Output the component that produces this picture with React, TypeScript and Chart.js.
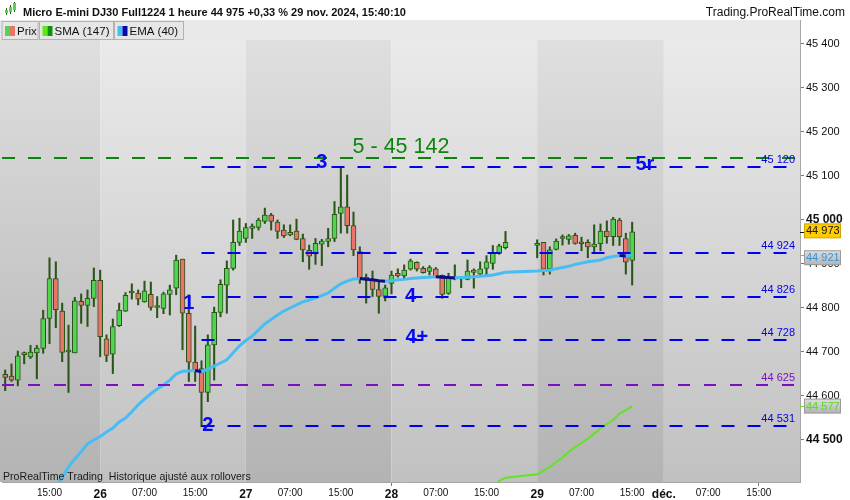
import { useEffect, useRef } from "react";
import { Chart, registerables, type Plugin } from "chart.js";

Chart.register(...registerables);

const FONT = '"Liberation Sans", Arial, sans-serif';

// un créneau = une bougie d'une heure (jour + heure)
const categories = [
  "25 08:00", "25 09:00", "25 10:00", "25 11:00", "25 12:00", "25 13:00", "25 14:00", "25 15:00",
  "25 16:00", "25 17:00", "25 18:00", "25 19:00", "25 20:00", "25 21:00", "25 22:00",
  "26 00:00", "26 01:00", "26 02:00", "26 03:00", "26 04:00", "26 05:00", "26 06:00", "26 07:00",
  "26 08:00", "26 09:00", "26 10:00", "26 11:00", "26 12:00", "26 13:00", "26 14:00", "26 15:00",
  "26 16:00", "26 17:00", "26 18:00", "26 19:00", "26 20:00", "26 21:00", "26 22:00",
  "27 00:00", "27 01:00", "27 02:00", "27 03:00", "27 04:00", "27 05:00", "27 06:00", "27 07:00",
  "27 08:00", "27 09:00", "27 10:00", "27 11:00", "27 12:00", "27 13:00", "27 14:00", "27 15:00",
  "27 16:00", "27 17:00", "27 18:00", "27 19:00", "27 20:00", "27 21:00", "27 22:00",
  "28 00:00", "28 01:00", "28 02:00", "28 03:00", "28 04:00", "28 05:00", "28 06:00", "28 07:00",
  "28 08:00", "28 09:00", "28 10:00", "28 11:00", "28 12:00", "28 13:00", "28 14:00", "28 15:00",
  "28 16:00", "28 17:00", "28 18:00", "28 19:00", "28 20:00", "28 21:00", "28 22:00",
  "29 00:00", "29 01:00", "29 02:00", "29 03:00", "29 04:00", "29 05:00", "29 06:00", "29 07:00",
  "29 08:00", "29 09:00", "29 10:00", "29 11:00", "29 12:00", "29 13:00", "29 14:00", "29 15:00",
  "29 16:00", "29 17:00", "29 18:00", "29 19:00",
  "02 00:00", "02 01:00", "02 02:00", "02 03:00", "02 04:00", "02 05:00", "02 06:00", "02 07:00",
  "02 08:00", "02 09:00", "02 10:00", "02 11:00", "02 12:00", "02 13:00", "02 14:00", "02 15:00",
  "02 16:00", "02 17:00", "02 18:00", "02 19:00", "02 20:00", "02 21:00",
];

// étiquettes de l'axe du temps
const hourTicks = ["07:00", "15:00"];
const dayKeys = ["26", "27", "28", "29", "02"];
const dayNames = ["26", "27", "28", "29", "déc."];

// bougies (null = marché fermé, Thanksgiving)
const opens = [
  44649, 44645, 44636, 44694, 44689, 44698, 44708, 44776, 44867, 44793,
  44700, 44698, 44815, 44806, 44822, 44863, 44730, 44695, 44760, 44793,
  44834, 44834, 44814, 44831, 44801, 44799, 44831, 44845, 44911, 44788,
  44677, 44662, 44608, 44716, 44790, 44852, 44890, 44949, 44958, 44981,
  44983, 44997, 45011, 44995, 44977, 44966, 44975, 44958, 44931, 44923,
  44945, 44951, 44958, 45015, 45030, 44987, 44928, 44869, 44864, 44842,
  44827, 44856, 44879, 44873, 44888, 44904, 44890, 44883, 44889, 44874,
  44833, 44866, 44868, 44865, 44886, 44877, 44890, 44901, 44924, 44937,
  null, null, null, null, 44942, 44949, 44888, 44933, 44958, 44956,
  44965, 44947, 44949, 44939, 44946, 44975, 44962, 45000, 44958, 44908,
];
const highs = [
  44659, 44673, 44702, 44700, 44715, 44715, 44795, 44914, 44905, 44811,
  44761, 44824, 44832, 44841, 44891, 44886, 44739, 44775, 44811, 44835,
  44855, 44841, 44861, 44859, 44826, 44836, 44852, 44920, 44911, 44830,
  44759, 44680, 44739, 44802, 44864, 44907, 45000, 45004, 44992, 44991,
  45004, 45027, 45015, 45000, 44989, 44989, 45002, 44968, 44943, 44958,
  44956, 44981, 45042, 45118, 45102, 45018, 44939, 44877, 44884, 44860,
  44852, 44884, 44889, 44898, 44911, 44905, 44894, 44896, 44892, 44875,
  44879, 44898, 44870, 44909, 44889, 44905, 44919, 44942, 44945, 44974,
  null, null, null, null, 44955, 44949, 44939, 44957, 44966, 44967,
  44970, 44961, 44955, 44989, 44991, 44998, 45006, 45004, 44970, 44995,
];
const lows = [
  44612, 44633, 44623, 44673, 44685, 44639, 44697, 44719, 44755, 44678,
  44608, 44698, 44765, 44758, 44803, 44689, 44678, 44651, 44758, 44792,
  44820, 44807, 44813, 44795, 44778, 44787, 44784, 44830, 44705, 44633,
  44633, 44530, 44587, 44636, 44780, 44788, 44886, 44942, 44949, 44958,
  44977, 44992, 44977, 44958, 44960, 44964, 44955, 44905, 44888, 44899,
  44896, 44939, 44951, 44970, 44970, 44919, 44856, 44811, 44826, 44788,
  44816, 44832, 44870, 44866, 44886, 44884, 44879, 44875, 44870, 44822,
  44831, 44864, 44846, 44864, 44845, 44875, 44875, 44888, 44922, 44934,
  null, null, null, null, 44914, 44875, 44877, 44932, 44943, 44945,
  44945, 44930, 44914, 44928, 44930, 44947, 44942, 44942, 44877, 44852,
];
const closes = [
  44642, 44636, 44691, 44695, 44700, 44709, 44776, 44867, 44796, 44699,
  44701, 44816, 44806, 44822, 44863, 44735, 44692, 44758, 44795, 44829,
  44835, 44820, 44839, 44801, 44802, 44832, 44841, 44909, 44788, 44677,
  44659, 44608, 44716, 44790, 44854, 44890, 44949, 44975, 44983, 44986,
  45000, 45011, 44997, 44974, 44964, 44972, 44956, 44932, 44918, 44947,
  44952, 44958, 45013, 45030, 44987, 44932, 44869, 44865, 44842, 44826,
  44846, 44875, 44873, 44886, 44907, 44888, 44880, 44892, 44871, 44831,
  44868, 44869, 44866, 44884, 44881, 44889, 44905, 44924, 44941, 44949,
  null, null, null, null, 44947, 44888, 44932, 44952, 44959, 44964,
  44947, 44946, 44939, 44945, 44975, 44962, 45002, 44962, 44904, 44973,
];

// moyennes mobiles
const ema40 = [
  null, null, null, null, null, null, 44360, 44377, 44395, 44414,
  44439, 44457, 44473, 44491, 44500, 44508, 44518, 44527, 44541, 44550,
  44564, 44580, 44593, 44605, 44616, 44625, 44636, 44650, 44656, 44657,
  44658, 44655, 44661, 44668, 44675, 44682, 44698, 44714, 44726, 44736,
  44750, 44764, 44774, 44784, 44793, 44800, 44807, 44814, 44818, 44823,
  44828, 44834, 44845, 44855, 44861, 44866, 44867, 44865, 44864, 44862,
  44861, 44862, 44864, 44865, 44867, 44868, 44869, 44870, 44871, 44870,
  44869, 44868, 44869, 44870, 44871, 44872, 44873, 44875, 44878, 44881,
  null, null, null, null, 44884, 44885, 44886, 44889, 44892, 44895,
  44899, 44902, 44905, 44907, 44909, 44914, 44917, 44919, 44918, 44921,
];
const sma147 = [
  ...Array(76).fill(null),
  44374, 44390, 44407, 44414,
  null, null, null, null, 44422, 44431, 44438, 44450, 44460, 44473,
  44484, 44493, 44503, 44514, 44526, 44536, 44545, 44560, 44568, 44577,
];

// niveaux tracés (valeur + bougie d'ancrage)
const levelValues = [45142, 45120, 44924, 44826, 44728, 44625, 44531];
const levelAnchors = [0, 31, 31, 31, 31, 0, 31];

// comptage des vagues
const waveTexts = ["1", "2", "3", "4", "4+", "5r"];
const waveSlots = [29, 32, 50, 64, 65, 101];
const wavePrices = [44811, 44534, 45130, 44827, 44734, 45126];

const yTicks = [44500, 44600, 44700, 44800, 44900, 45000, 45100, 45200, 45300, 45400];

const UP = "#52d452";
const DOWN = "#e8746a";
const EDGE = "#2b5418";
const EMA_COL = "#46bdf5";
const EMA_DOWN = "#0a0a8a";
const SMA_COL = "#62e422";

const fmt = (v: number) => {
  const s = Math.round(v).toString();
  return s.slice(0, -3) + " " + s.slice(-3);
};

const tickLabel = (cat: string | undefined) => {
  if (!cat) return null;
  const [d, h] = cat.split(" ");
  if (h === "00:00") {
    const k = dayKeys.indexOf(d);
    return k >= 0 ? dayNames[k] : null;
  }
  return hourTicks.includes(h) ? h : null;
};

const decor: Plugin<"bar"> = {
  id: "decor",
  beforeDraw(chart) {
    const { ctx, chartArea: a, scales } = chart;
    const xs = scales.x;
    ctx.save();
    ctx.fillStyle = "#ffffff";
    ctx.fillRect(0, 0, chart.width, chart.height);

    // bandes par journée
    const bounds = [0];
    categories.forEach((c, i) => {
      if (c.endsWith("00:00")) bounds.push(xs.getPixelForValue(i));
    });
    bounds.push(a.right);
    const light = ctx.createLinearGradient(0, a.top + 20, 0, a.bottom);
    light.addColorStop(0, "#eaeaea");
    light.addColorStop(1, "#c1c1c1");
    const dark = ctx.createLinearGradient(0, a.top + 20, 0, a.bottom);
    dark.addColorStop(0, "#dfdfdf");
    dark.addColorStop(1, "#b3b3b3");
    for (let k = 0; k < bounds.length - 1; k++) {
      ctx.fillStyle = k % 2 === 0 ? dark : light;
      ctx.fillRect(bounds[k], a.top, bounds[k + 1] - bounds[k], a.bottom - a.top);
    }
    // bandeau des légendes
    ctx.fillStyle = "#e9e9e9";
    ctx.fillRect(0, a.top, a.right, 20);
    ctx.restore();
  },
  afterDatasetsDraw(chart) {
    const { ctx, chartArea: a, scales } = chart;
    const xs = scales.x;
    const ys = scales.y;
    ctx.save();
    const colors = ["#0e840e", "#0000f0", "#0000f0", "#0000f0", "#0000f0", "#7a10c0", "#0000f0"];
    levelValues.forEach((v, k) => {
      const py = Math.round(ys.getPixelForValue(v));
      const x0 = levelAnchors[k] === 0 ? a.left : xs.getPixelForValue(levelAnchors[k]);
      ctx.strokeStyle = colors[k];
      ctx.lineWidth = 2;
      ctx.setLineDash(k === 5 ? [12, 14] : [13, 13]);
      ctx.beginPath();
      ctx.moveTo(x0, py);
      ctx.lineTo(a.right - 4, py);
      ctx.stroke();
      if (k > 0) {
        ctx.font = `11px ${FONT}`;
        ctx.fillStyle = colors[k];
        ctx.textAlign = "right";
        ctx.textBaseline = "alphabetic";
        ctx.fillText(fmt(v), a.right - 5, py - 4);
      }
    });
    ctx.setLineDash([]);

    // objectif 5
    const gx = (xs.getPixelForValue(62) + xs.getPixelForValue(63)) / 2;
    ctx.font = `21.5px ${FONT}`;
    ctx.fillStyle = "#0e840e";
    ctx.textAlign = "center";
    ctx.textBaseline = "alphabetic";
    ctx.fillText("5 - " + fmt(levelValues[0]), gx, ys.getPixelForValue(levelValues[0]) - 5);

    // vagues
    ctx.font = `bold 20px ${FONT}`;
    ctx.fillStyle = "#0808f8";
    ctx.textBaseline = "middle";
    waveTexts.forEach((t, k) => {
      ctx.fillText(t, xs.getPixelForValue(waveSlots[k]), ys.getPixelForValue(wavePrices[k]));
    });
    ctx.restore();
  },
  afterDraw(chart) {
    const { ctx, chartArea: a, scales } = chart;
    const ys = scales.y;
    ctx.save();

    // en-tête
    ctx.fillStyle = "#ffffff";
    ctx.fillRect(0, 0, chart.width, a.top);
    const mini = [
      [5, 10, 13, 8, 15],
      [9, 7, 12, 5, 14],
      [13, 3, 10, 2, 12],
    ];
    mini.forEach(([x, t, b, wt, wb]) => {
      ctx.fillStyle = EDGE;
      ctx.fillRect(x + 1, wt, 1, wb - wt);
      ctx.fillStyle = UP;
      ctx.fillRect(x, t, 3, b - t);
    });
    ctx.fillStyle = "#111";
    ctx.textBaseline = "alphabetic";
    ctx.textAlign = "left";
    ctx.font = `bold 11px ${FONT}`;
    ctx.fillText("Micro E-mini DJ30 Full1224 1 heure 44 975 +0,33 % 29 nov. 2024, 15:40:10", 23, 15.5);
    ctx.textAlign = "right";
    ctx.font = `12px ${FONT}`;
    ctx.fillText("Trading.ProRealTime.com", 845, 15.5);

    // boutons de légende
    const boxes: [number, number, string[], string][] = [
      [2, 36, [UP, DOWN], "Prix"],
      [39.5, 74, ["#5ee81a", "#11900f"], "SMA (147)"],
      [114.5, 69, [EMA_COL, "#0a0aa8"], "EMA (40)"],
    ];
    boxes.forEach(([x, w, sw, label]) => {
      ctx.fillStyle = "#e6e6e6";
      ctx.fillRect(x, 21.5, w, 18);
      ctx.strokeStyle = "#b2b2b2";
      ctx.lineWidth = 1;
      ctx.strokeRect(x, 21.5, w, 18);
      ctx.fillStyle = sw[0];
      ctx.fillRect(x + 3, 26, 5, 10);
      ctx.fillStyle = sw[1];
      ctx.fillRect(x + 8, 26, 5, 10);
      ctx.fillStyle = "#111";
      ctx.textAlign = "left";
      ctx.font = `11.5px ${FONT}`;
      ctx.fillText(label, x + 15, 34.5);
    });

    // mention en bas
    ctx.font = `10.6px ${FONT}`;
    ctx.fillStyle = "#1a1a1a";
    ctx.fillText("ProRealTime Trading  Historique ajusté aux rollovers", 3, 479.5);

    // étiquettes de valeur sur l'axe
    const tag = (v: number, bg: string | CanvasGradient, fg: string, mark: string, border: string, dy: number) => {
      const py = ys.getPixelForValue(v);
      const cy = py + dy;
      ctx.strokeStyle = mark;
      ctx.lineWidth = 1;
      ctx.beginPath();
      ctx.moveTo(a.right, Math.round(py) + 0.5);
      ctx.lineTo(a.right + 5, Math.round(py) + 0.5);
      ctx.stroke();
      ctx.fillStyle = bg;
      ctx.fillRect(a.right + 4.5, cy - 7, 36, 14);
      ctx.strokeStyle = border;
      ctx.strokeRect(a.right + 4.5, cy - 7, 36, 14);
      ctx.fillStyle = fg;
      ctx.font = `11px ${FONT}`;
      ctx.textAlign = "left";
      ctx.textBaseline = "middle";
      ctx.fillText(fmt(v), a.right + 6, cy + 0.5);
    };
    const grey = (v: number, dy: number) => {
      const py = ys.getPixelForValue(v) + dy;
      const g = ctx.createLinearGradient(0, py - 7, 0, py + 7);
      g.addColorStop(0, "#dcdcdc");
      g.addColorStop(1, "#b4b4b4");
      return g;
    };
    const last = closes.length - 1;
    const emaLast = ema40[last] as number;
    const smaLast = sma147[last] as number;
    tag(closes[last] as number, "#ffcc00", "#111", "#111", "#d0a400", -1);
    tag(emaLast, grey(emaLast, 3), "#2f95d6", EMA_COL, "#9a9a9a", 3);
    tag(smaLast, grey(smaLast, 0), "#5ad822", SMA_COL, "#9a9a9a", 0);
    ctx.restore();
  },
};

export default function App() {
  const canvasRef = useRef<HTMLCanvasElement | null>(null);
  const chartRef = useRef<Chart | null>(null);

  useEffect(() => {
    if (!canvasRef.current) return;
    chartRef.current?.destroy();

    const bodies = closes.map((c, i) => (c == null || opens[i] == null ? null : [opens[i] as number, c]));
    const wicks = highs.map((h, i) => (h == null ? null : [lows[i] as number, h]));
    const bodyColors = closes.map((c, i) => ((c ?? 0) >= (opens[i] ?? 0) ? UP : DOWN));

    chartRef.current = new Chart(canvasRef.current, {
      type: "bar",
      data: {
        labels: categories,
        datasets: [
          {
            type: "line",
            label: "EMA (40)",
            data: ema40,
            borderColor: EMA_COL,
            borderWidth: 3,
            pointRadius: 0,
            spanGaps: true,
            tension: 0,
            order: 1,
            segment: {
              borderColor: (c: any) => (c.p1.parsed.y < c.p0.parsed.y ? EMA_DOWN : EMA_COL),
            },
          } as any,
          {
            type: "line",
            label: "SMA (147)",
            data: sma147,
            borderColor: SMA_COL,
            borderWidth: 2,
            pointRadius: 0,
            spanGaps: true,
            tension: 0,
            order: 2,
          } as any,
          {
            label: "Prix",
            data: bodies as any,
            backgroundColor: bodyColors,
            borderColor: EDGE,
            borderWidth: 1,
            borderSkipped: false,
            barThickness: 5,
            minBarLength: 2,
            grouped: false,
            order: 3,
          },
          {
            label: "mèches",
            data: wicks as any,
            backgroundColor: EDGE,
            borderWidth: 0,
            barThickness: 1.4,
            grouped: false,
            order: 4,
          },
        ],
      },
      options: {
        animation: false,
        responsive: true,
        maintainAspectRatio: false,
        layout: { padding: { left: 2, top: 20, right: 0, bottom: 0 } },
        plugins: {
          legend: { display: false },
          tooltip: { enabled: false },
        },
        scales: {
          x: {
            type: "category",
            offset: true,
            grid: {
              offset: false,
              drawOnChartArea: false,
              drawTicks: true,
              tickLength: 4,
              color: (c: any) => (tickLabel(categories[c.index]) ? "#7a7a7a" : "rgba(0,0,0,0)"),
            },
            border: { display: true, color: "#a6a6a6" },
            ticks: {
              autoSkip: false,
              maxRotation: 0,
              minRotation: 0,
              padding: 1,
              color: "#111",
              callback: (_v: any, i: number) => tickLabel(categories[i]),
              font: (c: any) => {
                const lab = c.tick ? c.tick.label : null;
                return dayNames.includes(lab)
                  ? { family: FONT, size: 12, weight: "bold" as const }
                  : { family: FONT, size: 10 };
              },
            },
            afterFit: (s: any) => {
              s.height = 18;
            },
          },
          y: {
            position: "right",
            min: 44404.5,
            max: 45454.5,
            afterBuildTicks: (s: any) => {
              s.ticks = yTicks.map((v) => ({ value: v }));
            },
            grid: { drawOnChartArea: false, drawTicks: true, tickLength: 4, color: "#7a7a7a" },
            border: { display: true, color: "#a6a6a6" },
            ticks: {
              padding: 2,
              color: "#111",
              callback: (v: any) => fmt(Number(v)),
              font: (c: any) =>
                c.tick && c.tick.value % 500 === 0
                  ? { family: FONT, size: 12, weight: "bold" as const }
                  : { family: FONT, size: 11 },
            },
            afterFit: (s: any) => {
              s.width = 50;
            },
          },
        },
      },
      plugins: [decor],
    });

    return () => {
      chartRef.current?.destroy();
      chartRef.current = null;
    };
  }, []);

  return (
    <div style={{ position: "absolute", left: 0, top: 0, width: 850, height: 500, background: "#fff" }}>
      <canvas ref={canvasRef} />
    </div>
  );
}
